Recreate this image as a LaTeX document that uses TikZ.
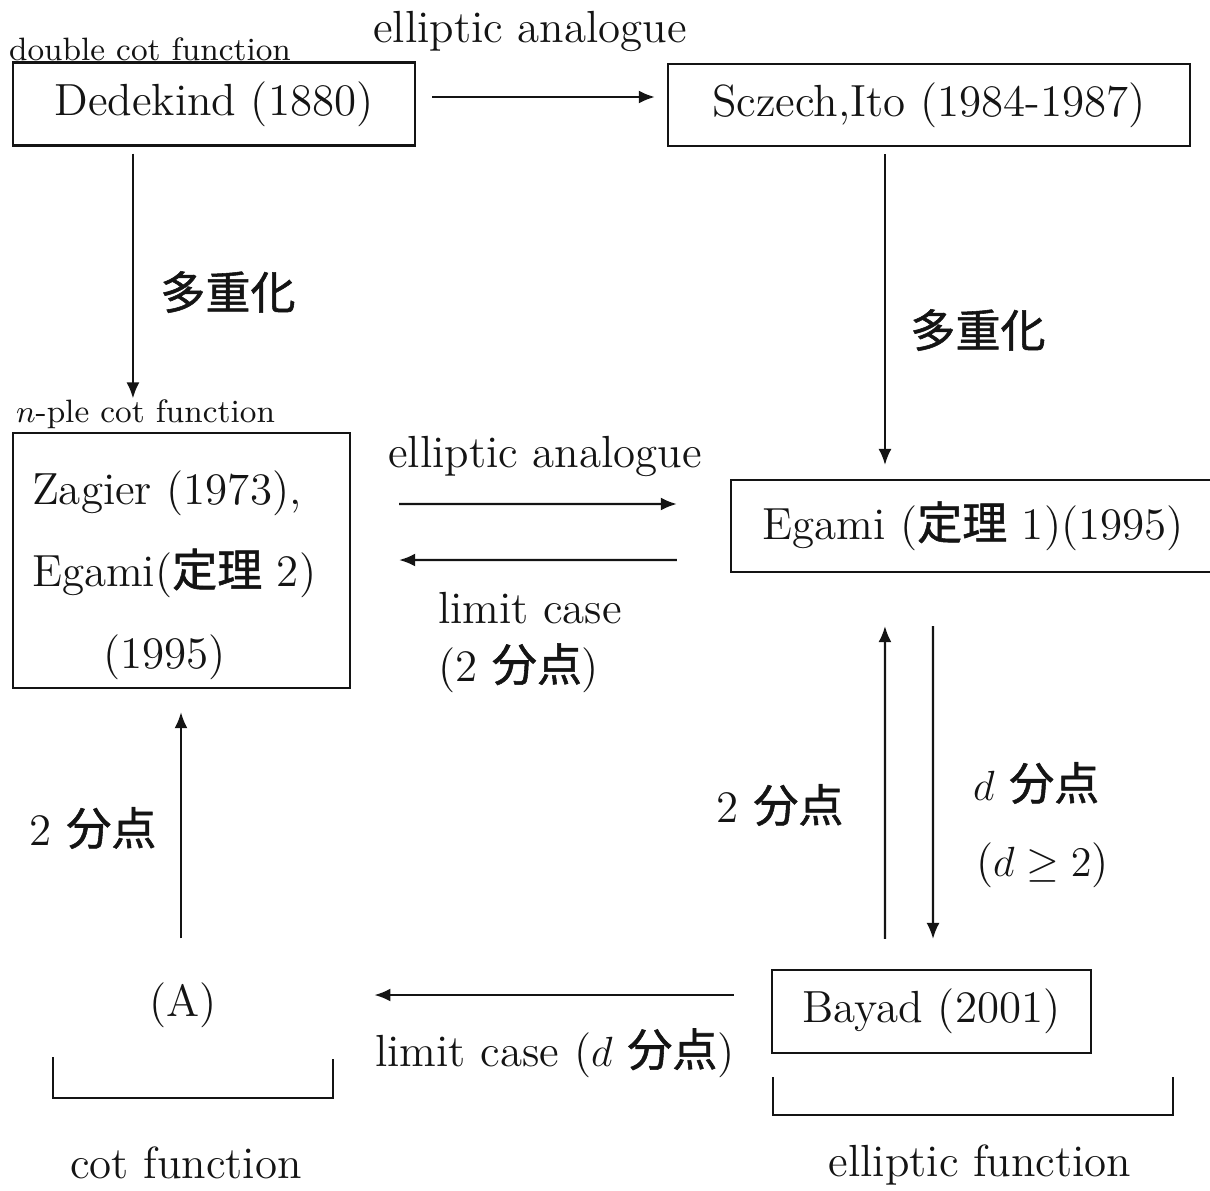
\documentclass[tikz,border=0pt]{standalone}
\usepackage{fontspec}
\newfontfamily\cjk{Noto Sans CJK JP}[FakeBold=1.2]
\newcommand{\ja}[1]{{\cjk #1}}
\usetikzlibrary{arrows.meta, positioning}
\definecolor{ink}{HTML}{141414}
\tikzset{
  every picture/.style={line width=0.6pt, font=\fontsize{12.8}{15}\selectfont},
  box/.style={draw=ink, inner sep=0pt, align=center, text=ink},
  arrow/.style={-{Latex[length=1.6mm, width=1.3mm]}, draw=ink, line width=0.6pt},
  note/.style={inner sep=0pt, text=ink, align=left},
  cornerlabel/.style={note, font=\fontsize{9.2}{11}\selectfont},
}
\begin{document}
\begin{tikzpicture}[x=0.01cm, y=-0.01cm]
  \useasboundingbox (0,0) rectangle (1210,1190);
  % top row
  \node[box, minimum width=4.02cm, minimum height=0.83cm] (dedekind) at (214,104) {Dedekind (1880)};
  \node[box, minimum width=5.22cm, minimum height=0.82cm] (sczech) at (929,105) {Sczech,Ito (1984-1987)};
  \node[cornerlabel, anchor=west] (dcot) at (8,49) {double cot function};
  \node[note] (ellA) at (530,31) {elliptic analogue};
  % middle row
  \node[box, minimum width=3.37cm, minimum height=2.55cm] (zagier) at (181.5,560.5) {};
  \node[note, anchor=north west, font=\fontsize{12.8}{23.2}\selectfont] (zagtxt) at (31,470)
    {Zagier (1973),\\Egami(\ja{定理} 2)\\\hspace*{0.71cm}(1995)};
  \node[cornerlabel, anchor=west] (nple) at (15,414) {$n$-ple cot function};
  \node[box, minimum width=4.84cm, minimum height=0.92cm] (egami) at (973,526) {Egami (\ja{定理} 1)(1995)};
  \node[note] (ellB) at (545,456) {elliptic analogue};
  \node[note, anchor=west] (lim2) at (437,608) {limit case};
  \node[note, anchor=west] (lim2b) at (437,668) {(2 \ja{分点})};
  \node[note] (multA) at (228,292) {\ja{多重化}};
  \node[note] (multB) at (978,330) {\ja{多重化}};
  % bottom row
  \node[note] (A) at (183,1005) {(A)};
  \node[box, minimum width=3.19cm, minimum height=0.83cm] (bayad) at (931.5,1011.5) {Bayad (2001)};
  \node[note] (limd) at (555,1053) {limit case ($d$ \ja{分点})};
  \node[note] (twoA) at (93,828) {2 \ja{分点}};
  \node[note] (twoB) at (780,805) {2 \ja{分点}};
  \node[note, anchor=west] (dpt) at (972,783) {$d$ \ja{分点}};
  \node[note, anchor=west] (dge) at (975,865) {($d \geq 2$)};
  \node[note] (cotf) at (186,1163) {cot function};
  \node[note] (ellf) at (980,1165) {elliptic function};
  % connectors
  \draw[arrow] ([xshift=0.16cm, yshift=0.07cm]dedekind.east) -- ([xshift=-0.12cm, yshift=0.08cm]sczech.west);
  \draw[arrow] ([xshift=-0.81cm, yshift=-0.07cm]dedekind.south) -- ([xshift=-0.81cm]dedekind.south |- nple.north);
  \draw[arrow] ([xshift=-0.44cm, yshift=-0.07cm]sczech.south) -- ([xshift=-0.44cm, yshift=0.14cm]sczech.south |- egami.north);
  \draw[arrow] ([xshift=0.48cm, yshift=0.565cm]zagier.east) -- ([xshift=-0.53cm, yshift=0.22cm]egami.west);
  \draw[arrow] ([xshift=-0.53cm, yshift=-0.34cm]egami.west) -- ([xshift=0.48cm, yshift=0.005cm]zagier.east);
  \draw[arrow] ([xshift=-0.465cm, yshift=0.30cm]bayad.north) -- ([xshift=-0.88cm, yshift=-0.53cm]egami.south);
  \draw[arrow] ([xshift=-0.40cm, yshift=-0.53cm]egami.south) -- ([xshift=0.015cm, yshift=0.30cm]bayad.north);
  \draw[arrow] ([xshift=-0.005cm, yshift=0.43cm]zagier.south |- A.north) -- ([xshift=-0.005cm, yshift=-0.23cm]zagier.south);
  \draw[arrow] ([xshift=-0.37cm, yshift=0.165cm]bayad.west) -- ([yshift=0.165cm]bayad.west -| limd.west);
  % brackets
  \draw[draw=ink] (53,1057) -- (53,1098) -- (333,1098) -- (333,1059);
  \draw[draw=ink] (773,1077) -- (773,1115) -- (1173,1115) -- (1173,1077);
\end{tikzpicture}
\end{document}
